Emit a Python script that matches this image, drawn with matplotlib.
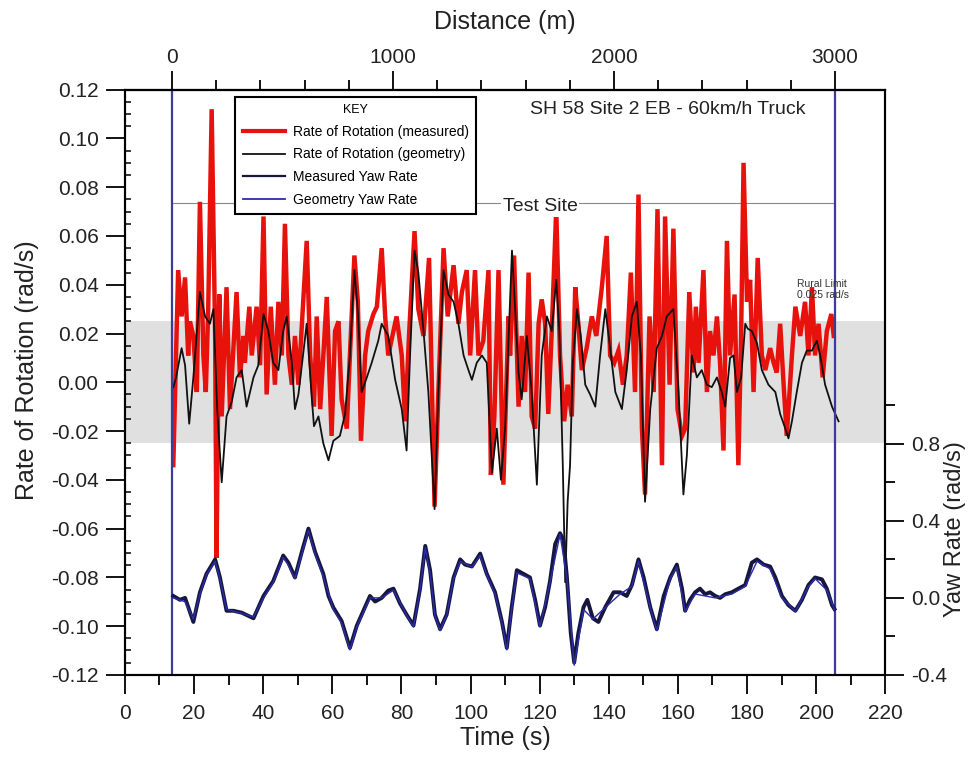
import numpy as np
import matplotlib
matplotlib.use("Agg")
import matplotlib.pyplot as plt
from matplotlib.ticker import MultipleLocator, FixedLocator, FormatStrFormatter
from matplotlib.lines import Line2D

plt.rcParams['font.family'] = ['Liberation Sans', 'DejaVu Sans']
plt.rcParams['axes.unicode_minus'] = False

# ---- data ----
# rate of rotation (measured), red
t_rot_meas = [14.0, 15.4, 16.4, 17.4, 18.3, 18.8, 19.8, 20.8, 21.7, 22.7, 23.4, 24.1, 25.1, 26.1, 26.5,
              27.3, 28.0, 29.4, 30.4, 32.3, 33.3, 34.3, 34.7, 36.0, 36.7, 38.1, 39.1, 40.1, 41.0, 42.2,
              43.4, 44.4, 45.4, 46.3, 47.3, 48.3, 49.2, 50.2, 52.6, 53.6, 54.7, 55.5, 56.5, 58.4, 59.8,
              60.8, 61.8, 62.7, 64.2, 65.1, 66.4, 67.4, 68.3, 69.5, 70.4, 71.9, 72.9, 74.3, 75.3, 76.2,
              77.7, 78.6, 80.1, 81.1, 82.2, 83.8, 84.9, 86.4, 88.0, 89.6, 90.7, 92.2, 93.4, 95.1, 96.5,
              97.5, 98.9, 99.9, 101.3, 102.3, 103.7, 105.2, 105.9, 106.9, 108.1, 109.5, 111.0,
              111.45, 112.6, 113.9, 114.8, 115.8, 116.8, 117.7, 118.7, 119.7, 120.6, 121.6, 122.5,
              123.5, 124.8, 125.9, 127.1, 128.1, 129.3, 130.3, 131.2, 132.2, 133.6, 135.1, 136.4,
              138.0, 139.4, 140.4, 141.6, 142.8, 144.1, 145.2, 146.4, 147.6, 148.6, 149.6, 150.5,
              151.8, 153.0, 154.1, 155.4, 156.3, 157.6, 158.7, 159.9, 161.2, 162.1,
              163.3, 164.5, 165.2, 166.0, 167.4, 168.4, 169.3, 170.3, 171.3, 172.2, 173.2, 174.2,
              175.1, 176.4, 177.5, 178.3, 179.0, 180.0, 180.9, 181.9, 183.1, 184.3, 185.3, 186.7,
              187.7, 188.6, 189.6, 190.6, 191.5, 193.0, 194.0, 195.4, 196.8, 197.8, 198.8, 199.7,
              200.7, 201.9, 203.1, 204.4, 205.1]
rot_meas = [-0.034, 0.046, 0.027, 0.043, 0.011, 0.025, 0.019, -0.004, 0.074, 0.011, -0.004, 0.030, 0.112, 0.019, -0.072,
            0.036, -0.014, 0.039, -0.011, 0.037, 0.002, 0.019, 0.008, 0.031, 0.011, 0.031, 0.007, 0.068, -0.005, 0.031,
            -0.001, 0.033, 0.011, 0.065, 0.011, -0.001, 0.019, -0.001, 0.058, 0.011, -0.010, 0.027, -0.011, 0.035, -0.022,
            0.021, 0.025, -0.007, -0.019, 0.011, 0.052, 0.033, -0.024, 0.011, 0.021, 0.028, 0.031, 0.055, 0.027, 0.011,
            0.021, 0.027, 0.011, -0.016, 0.019, 0.062, 0.030, 0.019, 0.051, -0.051, -0.004, 0.055, 0.027, 0.048, 0.024,
            0.037, 0.046, 0.011, 0.046, 0.011, 0.017, 0.046, -0.038, -0.014, 0.046, -0.042, 0.027,
            0.011, 0.052, -0.010, 0.019, -0.004, 0.045, -0.014, -0.019, 0.024, 0.034, 0.024, -0.013,
            0.021, 0.071, 0.011, -0.016, -0.001, -0.014, 0.039, 0.024, 0.005, 0.014, 0.027, 0.019,
            0.039, 0.060, 0.011, 0.008, 0.013, -0.001, 0.011, 0.045, -0.004, 0.077, -0.019, -0.046,
            0.027, -0.004, 0.071, -0.034, 0.068, -0.001, 0.063, -0.011, -0.022, -0.019,
            0.037, 0.004, 0.031, 0.008, 0.046, -0.004, 0.021, 0.011, 0.027, 0.008, -0.028, 0.058,
            0.011, 0.036, -0.034, 0.019, 0.090, 0.033, 0.042, -0.004, 0.051, 0.011, 0.005, 0.014,
            0.008, 0.004, 0.024, -0.001, -0.022, 0.011, 0.031, 0.019, 0.033, 0.011, 0.039, 0.011,
            0.024, 0.002, 0.021, 0.028, 0.019]

# rate of rotation (geometry), black
t_rot_geom = [14.0, 14.8, 16.4, 17.4, 18.6, 19.8, 21.7, 23.2, 24.6, 25.6, 26.7, 28.0, 29.4, 30.9, 32.3,
              33.8, 35.2, 37.2, 38.6, 40.1, 41.5, 42.9, 44.4, 45.8, 46.8, 48.3, 49.2, 50.2, 52.6, 54.1,
              54.7, 56.0, 57.4, 58.9, 60.3, 62.2, 63.7, 65.1, 66.4, 67.5, 68.5, 70.0, 71.4, 73.3, 74.3,
              76.2, 78.2, 80.1, 81.5, 82.5, 83.8, 84.9, 86.4, 87.8, 89.6, 90.7, 92.2, 93.6, 95.1, 96.5,
              98.0, 99.4, 100.4, 101.8, 103.3, 104.7, 106.2, 107.6, 108.8, 110.0, 112.0, 113.9, 114.8,
              116.3, 117.7, 119.2, 120.6, 122.1, 123.5, 124.8, 125.7, 126.7, 127.4, 128.1, 128.8, 129.6,
              130.8, 131.9, 133.2, 134.6, 136.1, 137.5, 139.0, 140.4, 141.9, 143.8, 145.2, 146.7, 148.1,
              149.3, 150.5, 152.0, 153.9, 155.4, 156.8, 158.7, 160.2, 161.6, 162.6, 163.5, 164.0, 165.5,
              166.9, 168.4, 169.8, 171.3, 172.7, 173.7, 175.1, 176.1, 177.1, 178.3, 179.5, 180.2, 181.4,
              182.9, 184.3, 186.2, 188.2, 189.6, 191.1, 192.0, 193.0, 194.4, 195.9, 197.3, 198.8, 200.2,
              201.2, 202.6, 204.6, 206.5]
rot_geom = [-0.002, 0.002, 0.014, 0.007, -0.017, 0.002, 0.037, 0.027, 0.024, 0.030, -0.011, -0.041, -0.014, -0.008, 0.002,
            0.005, -0.010, 0.002, 0.007, 0.028, 0.021, 0.008, 0.005, 0.021, 0.027, 0.008, -0.011, -0.005, 0.024, -0.007,
            -0.018, -0.014, -0.025, -0.032, -0.024, -0.022, -0.013, 0.011, 0.046, 0.027, -0.004, 0.002, 0.008, 0.017, 0.024,
            0.019, 0.001, -0.011, -0.028, 0.011, 0.054, 0.045, 0.021, -0.004, -0.052, -0.004, 0.046, 0.036, 0.033, 0.024,
            0.011, 0.005, 0.001, 0.008, 0.011, 0.008, -0.037, -0.019, -0.040, -0.019, 0.054, 0.004, -0.007,
            0.019, -0.004, -0.042, 0.011, 0.027, 0.021, 0.042, 0.021, -0.034, -0.082, -0.049, -0.034, 0.008,
            0.030, 0.019, -0.001, -0.005, -0.010, 0.011, 0.030, 0.014, -0.004, -0.011, 0.005, 0.027, 0.033,
            0.011, -0.049, -0.011, 0.014, 0.019, 0.027, 0.030, -0.004, -0.046, -0.030, -0.004, 0.011, 0.002,
            0.005, -0.001, -0.002, 0.002, -0.004, -0.010, 0.010, 0.011, -0.004, 0.002, 0.024, 0.022, 0.021,
            0.016, 0.005, -0.001, -0.004, -0.013, -0.019, -0.023, -0.016, -0.004, 0.008, 0.013, 0.013, 0.017,
            0.011, -0.001, -0.010, -0.016]

# measured yaw rate (right axis)
t_yaw_meas = [14.0, 15.9, 17.4, 19.8, 21.7, 23.6, 26.1, 27.5, 29.4, 31.4, 33.8, 37.2, 40.1, 42.9, 45.8,
              47.3, 49.2, 51.2, 53.1, 55.0, 57.4, 58.9, 60.3, 62.7, 65.1, 67.1, 69.0, 70.9, 72.4, 74.3,
              76.2, 77.7, 79.6, 81.5, 83.5, 85.4, 86.9, 88.3, 89.7, 91.2, 93.1, 95.1, 97.0, 98.4, 100.4,
              102.8, 104.7, 107.1, 109.1, 110.5, 111.9, 113.4, 115.3, 117.2, 118.7, 120.1, 121.6, 123.0,
              124.5, 125.9, 126.9, 127.9, 129.0, 130.0, 131.2, 132.7, 133.8, 135.4, 137.0, 139.0, 141.4,
              143.3, 145.2, 146.7, 148.6, 150.1, 152.0, 153.9, 155.9, 157.8, 159.7, 161.2, 162.1, 163.5,
              165.0, 166.4, 167.9, 169.3, 170.8, 172.2, 173.7, 175.6, 177.5, 179.5, 181.4, 182.9, 184.8,
              186.7, 188.2, 190.1, 192.0, 194.0, 195.9, 197.8, 199.7, 201.7, 203.1, 204.6, 205.3]
yaw_meas = [0.01, -0.01, 0.0, -0.125, 0.029, 0.125, 0.2, 0.106, -0.067, -0.067, -0.077, -0.106, 0.01, 0.087, 0.22,
            0.183, 0.106, 0.24, 0.36, 0.24, 0.125, 0.01, -0.05, -0.12, -0.26, -0.144, -0.067, 0.01, -0.019, 0.0,
            0.038, 0.048, -0.029, -0.087, -0.144, 0.048, 0.27, 0.144, -0.087, -0.163, -0.087, 0.106, 0.2, 0.173, 0.163,
            0.23, 0.125, 0.029, -0.125, -0.26, -0.05, 0.144, 0.125, 0.106, -0.01, -0.144, -0.048, 0.087,
            0.28, 0.336, 0.30, 0.106, -0.183, -0.336, -0.183, -0.048, -0.01, -0.106, -0.125, -0.048, 0.029,
            0.029, 0.01, 0.067, 0.2, 0.106, -0.048, -0.163, 0.01, 0.106, 0.173, 0.048, -0.067, -0.01,
            0.029, 0.048, 0.019, 0.029, 0.01, 0.0, 0.019, 0.029, 0.048, 0.067, 0.183, 0.2, 0.173,
            0.163, 0.106, 0.01, -0.038, -0.067, -0.01, 0.067, 0.106, 0.096, 0.048, -0.038, -0.058]

# geometry yaw rate (right axis)
t_yaw_geom = [14.0, 17.4, 19.8, 21.7, 23.6, 26.1, 27.5, 29.4, 33.8, 37.2, 40.1, 42.9, 45.8, 47.3, 49.2,
              51.2, 53.1, 55.0, 57.4, 60.3, 62.7, 65.1, 67.1, 70.9, 74.3, 77.7, 81.5, 83.5, 85.4, 86.9,
              88.3, 89.7, 91.2, 93.1, 95.1, 97.0, 100.4, 102.8, 104.7, 107.1, 109.1, 110.5, 111.9, 113.4,
              117.2, 120.1, 123.0, 125.9, 127.9, 130.0, 132.7, 135.4, 139.0, 143.3, 146.7, 148.6, 152.0,
              153.9, 157.8, 159.7, 162.1, 165.0, 170.8, 175.6, 179.5, 182.9, 186.7, 190.1, 194.0, 197.8,
              199.7, 203.1, 205.3]
yaw_geom = [0.0, -0.02, -0.11, 0.02, 0.12, 0.19, 0.10, -0.06, -0.08, -0.10, 0.0, 0.08, 0.21, 0.17, 0.10,
            0.23, 0.35, 0.23, 0.11, -0.06, -0.13, -0.27, -0.15, 0.0, 0.0, 0.04, -0.09, -0.15, 0.04, 0.26,
            0.13, -0.09, -0.17, -0.09, 0.10, 0.19, 0.16, 0.22, 0.12, 0.02, -0.13, -0.27, -0.06, 0.13,
            0.10, -0.15, 0.08, 0.33, 0.10, -0.35, -0.06, -0.11, -0.05, 0.02, 0.06, 0.19, -0.05,
            -0.17, 0.10, 0.16, -0.07, 0.02, 0.0, 0.02, 0.06, 0.19, 0.15, 0.0, -0.07, 0.06,
            0.10, 0.04, -0.06]

rural_limit = 0.025
test_site_level = 0.0735
site_start_time = 13.6     # distance 0 m
site_end_time = 205.5      # distance 3000 m
m_per_s = 3000 / (site_end_time - site_start_time)


def t2d(t):
    return (np.asarray(t) - site_start_time) * m_per_s


def d2t(d):
    return np.asarray(d) / m_per_s + site_start_time


fig = plt.figure(figsize=(9.76, 7.6), dpi=100)
ax = fig.add_axes([0.128, 0.112, 0.779, 0.770])

ax.axhspan(-rural_limit, rural_limit, color='#e0e0e0', zorder=0, lw=0)
ax.plot(d2t([0, 3000]), [test_site_level, test_site_level], color='#888888', lw=0.8, zorder=1)
for d in [0, 3000]:
    ax.axvline(d2t(d), color='#3b3b99', lw=1.6, zorder=4)

ax.plot(t_rot_meas, rot_meas, color='#e8120c', lw=3.2, zorder=2, solid_joinstyle='miter')
ax.plot(t_rot_geom, rot_geom, color='#111111', lw=1.3, zorder=3)

ax.set_xlim(0, 220)
ax.set_ylim(-0.12, 0.12)
ax.xaxis.set_major_locator(MultipleLocator(20))
ax.xaxis.set_minor_locator(MultipleLocator(10))
ax.yaxis.set_major_locator(MultipleLocator(0.02))
ax.yaxis.set_minor_locator(MultipleLocator(0.005))
ax.yaxis.set_major_formatter(FormatStrFormatter('%.2f'))
ax.tick_params(axis='x', which='major', direction='out', length=14, width=1.3, labelsize=15, pad=7,
               labelcolor='#222222')
ax.tick_params(axis='x', which='minor', direction='out', length=7, width=1.3)
ax.tick_params(axis='y', which='major', direction='out', length=14, width=1.3, labelsize=15, pad=5,
               labelcolor='#222222')
ax.tick_params(axis='y', which='minor', direction='in', length=4.5, width=1.1)
ax.set_xlabel('Time (s)', fontsize=18, labelpad=2, color='#222222')
ax.set_ylabel('Rate of Rotation (rad/s)', fontsize=18, color='#222222')
ax.yaxis.set_label_coords(-0.113, 0.52)
for sp in ax.spines.values():
    sp.set_linewidth(1.5)

# top distance axis
top = ax.secondary_xaxis('top', functions=(t2d, d2t))
top.xaxis.set_major_locator(FixedLocator([0, 1000, 2000, 3000]))
top.xaxis.set_minor_locator(FixedLocator(np.arange(0, 3001, 200)))
top.tick_params(which='major', direction='out', length=14, width=1.3, labelsize=15, pad=2,
                labelcolor='#222222')
top.tick_params(which='minor', direction='out', length=7, width=1.3)
top.set_xlabel('Distance (m)', fontsize=18, labelpad=14, color='#222222')
top.spines['top'].set_linewidth(1.5)

# right yaw-rate axis
ax2 = ax.twinx()
ax2.plot(t_yaw_meas, yaw_meas, color='#16163f', lw=2.8, zorder=2)
ax2.plot(t_yaw_geom, yaw_geom, color='#2c2ca8', lw=1.0, zorder=3)
ax2.set_ylim(-0.4, 2.64)
ax2.yaxis.set_major_locator(FixedLocator([-0.4, 0.0, 0.4, 0.8]))
ax2.yaxis.set_minor_locator(FixedLocator([-0.2, 0.2, 0.6, 1.0]))
ax2.yaxis.set_major_formatter(FormatStrFormatter('%.1f'))
ax2.tick_params(axis='y', which='major', direction='out', length=14, width=1.3, labelsize=15, pad=5,
                labelcolor='#222222')
ax2.tick_params(axis='y', which='minor', direction='out', length=7, width=1.3)
ax2.set_ylabel('Yaw Rate (rad/s)', fontsize=17, color='#222222')
ax2.yaxis.set_label_coords(1.077, 0.25)
for sp in ax2.spines.values():
    sp.set_linewidth(1.5)

# annotations
ax2.text(0.533, 0.966, 'SH 58 Site 2 EB - 60km/h Truck', transform=ax.transAxes,
         fontsize=14, va='center', ha='left', color='#222222')
ax2.text(0.546, 0.80, 'Test Site', transform=ax.transAxes, fontsize=14, va='center', ha='center',
         color='#222222', bbox=dict(facecolor='white', edgecolor='none', pad=1))
ax2.text(0.884, 0.658, 'Rural Limit\n0.025 rad/s', transform=ax.transAxes, fontsize=7.5,
         va='center', ha='left', color='#333333', linespacing=1.1)

handles = [Line2D([], [], color='#e8120c', lw=3.0),
           Line2D([], [], color='#111111', lw=1.3),
           Line2D([], [], color='#16163f', lw=1.6),
           Line2D([], [], color='#2c2ca8', lw=1.3)]
labels = ['Rate of Rotation (measured)', 'Rate of Rotation (geometry)',
          'Measured Yaw Rate', 'Geometry Yaw Rate']
leg = ax2.legend(handles, labels, title='KEY', loc='upper left',
                 bbox_to_anchor=(0.241, 0.873), bbox_transform=fig.transFigure,
                 fontsize=10, title_fontsize=9, handlelength=3.0, handletextpad=0.6,
                 labelspacing=0.62, borderpad=0.55, borderaxespad=0, fancybox=False, framealpha=1,
                 edgecolor='black')
leg.get_frame().set_linewidth(1.5)
leg.set_zorder(10)

fig.savefig('out.png', dpi=100)
